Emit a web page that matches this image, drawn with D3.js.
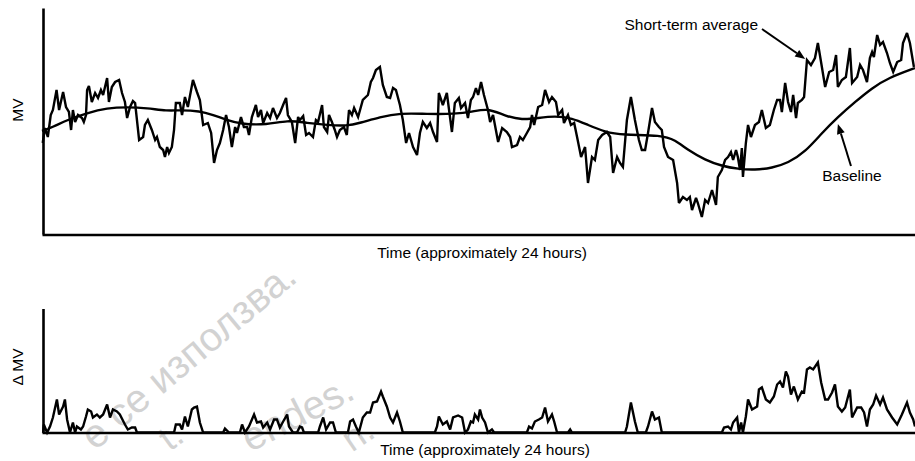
<!DOCTYPE html>
<html>
<head>
<meta charset="utf-8">
<script src="https://cdn.jsdelivr.net/npm/d3@7"></script>
<style>
  html, body { margin: 0; padding: 0; background: #fff; }
  svg { display: block; }
  text { font-family: "Liberation Sans", Arial, Helvetica, sans-serif; }
</style>
</head>
<body>
<svg id="chart" width="915" height="461"></svg>
<script>
// ---------------- DATA (time in hours, MV in arbitrary units) ----------------
const shortTermTime = [0.02,0.08,0.16,0.24,0.30,0.40,0.47,0.58,0.66,0.74,0.80,0.85,0.91,0.99,1.10,1.15,1.21,1.24,1.29,1.37,1.46,1.54,1.62,1.68,1.79,1.84,1.92,2.01,2.12,2.20,2.28,2.34,2.42,2.50,2.56,2.67,2.78,2.83,2.91,3.02,3.11,3.16,3.24,3.33,3.38,3.44,3.49,3.57,3.63,3.68,3.79,3.85,3.93,4.01,4.15,4.26,4.34,4.43,4.56,4.65,4.73,4.81,4.89,4.98,5.06,5.14,5.22,5.31,5.36,5.47,5.55,5.64,5.69,5.77,5.88,5.94,6.02,6.08,6.19,6.27,6.35,6.46,6.54,6.65,6.71,6.76,6.87,6.96,7.04,7.09,7.18,7.26,7.34,7.45,7.53,7.59,7.70,7.75,7.84,7.89,7.97,8.05,8.11,8.19,8.30,8.38,8.44,8.52,8.58,8.69,8.82,8.96,9.04,9.10,9.18,9.29,9.37,9.48,9.57,9.65,9.73,9.84,9.92,10.01,10.09,10.20,10.31,10.39,10.47,10.58,10.67,10.75,10.86,10.91,11.02,11.13,11.27,11.35,11.46,11.52,11.63,11.71,11.79,11.85,11.93,11.99,12.07,12.15,12.26,12.32,12.40,12.54,12.65,12.78,12.87,12.92,13.06,13.14,13.22,13.33,13.42,13.47,13.53,13.64,13.75,13.83,13.94,14.02,14.13,14.19,14.30,14.35,14.46,14.54,14.63,14.71,14.82,14.93,15.01,15.12,15.20,15.29,15.40,15.53,15.62,15.70,15.81,15.89,15.97,16.08,16.19,16.30,16.41,16.49,16.58,16.66,16.77,16.85,16.96,17.04,17.10,17.21,17.35,17.46,17.51,17.62,17.73,17.81,17.87,17.98,18.03,18.14,18.23,18.31,18.42,18.53,18.58,18.69,18.78,18.86,18.94,19.00,19.08,19.13,19.19,19.24,19.27,19.35,19.41,19.49,19.60,19.71,19.79,19.90,20.01,20.12,20.21,20.29,20.34,20.43,20.51,20.59,20.65,20.73,20.78,20.89,20.95,21.03,21.14,21.25,21.33,21.44,21.53,21.64,21.75,21.83,21.88,21.99,22.10,22.21,22.27,22.41,22.49,22.57,22.68,22.76,22.82,22.87,22.96,23.04,23.12,23.23,23.31,23.40,23.51,23.62,23.67,23.78,23.86,23.97];
const shortTermMV = [91,106,97,119,124,144,124,142,127,122,104,124,112,119,116,112,119,144,148,132,141,136,144,139,156,132,147,152,154,141,132,116,127,133,131,94,97,109,114,104,94,97,87,84,77,87,81,87,104,131,131,119,137,127,154,142,134,109,111,101,71,84,91,104,119,107,87,107,101,117,107,107,99,117,129,117,124,111,121,116,126,116,121,131,136,119,112,91,117,114,118,99,101,97,114,112,129,107,102,119,112,104,97,104,107,99,124,119,126,117,134,139,152,156,164,167,149,137,136,146,144,129,114,91,101,87,79,101,112,106,111,102,92,141,129,141,102,131,136,126,131,116,134,137,146,139,152,139,124,112,119,92,106,102,97,87,89,97,94,101,107,119,109,127,129,144,132,137,132,119,124,111,119,109,111,97,77,87,51,77,74,94,99,102,97,61,77,71,67,114,137,114,94,84,84,101,126,112,107,104,87,77,74,51,31,37,34,37,24,36,31,17,34,31,44,29,57,64,74,77,82,74,84,77,64,86,57,91,109,97,109,112,124,106,109,124,134,134,122,151,132,122,139,116,131,134,137,174,169,176,191,167,147,162,164,179,147,154,157,186,151,157,169,164,152,176,182,177,199,189,192,181,171,162,172,174,191,201,191,167];

const baselineTime = [0,0.30,0.69,1.24,1.79,2.34,2.89,3.44,3.79,4.34,4.70,5.09,5.44,6.19,6.74,7.29,7.84,8.38,8.74,9.29,9.84,10.58,11.35,11.82,12.26,12.73,13.20,13.64,14.10,14.57,15.01,15.48,15.95,17.04,17.40,17.76,18.23,18.69,19.13,19.60,20.07,20.51,20.98,21.44,21.88,22.35,22.82,23.26,24.00];
const baselineMV = [103,107,114,121,126,127,126,123,124,123,119,114,110,109,114,111,109,108,111,117,121,120,120,122,126,118,114,116,118,116,109,102,99,99,94,84,74,68,65,64,66,71,82,101,117,132,146,156,166];

const deltaTime = [
  0.03,0.05,0.14,0.22,0.30,0.41,0.47,0.58,0.63,0.69,0.77,0.85,0.91,0.96,1.07,1.13,1.21,1.26,1.35,1.40,1.51,1.59,1.68,1.79,1.87,1.95,2.06,2.14,2.28,2.36,2.47,2.56,2.61,
  3.63,3.68,3.79,3.85,3.93,4.01,4.12,4.18,4.26,4.34,4.43,
  4.98,5.03,5.14,
  5.44,5.50,5.58,5.69,5.83,5.91,6.02,6.08,6.19,6.27,6.38,6.46,6.54,6.63,6.74,6.79,6.90,
  7.01,7.09,7.15,7.20,
  7.59,7.64,7.73,7.81,7.92,8.00,8.08,
  8.41,8.47,8.55,8.63,8.71,8.82,8.93,9.02,9.10,9.21,9.32,9.37,9.48,9.57,9.65,9.76,9.84,9.92,
  10.80,10.86,10.91,11.02,11.13,11.22,11.30,11.44,11.55,11.63,11.71,11.79,11.85,11.90,11.99,12.04,12.10,12.18,12.26,12.37,12.43,
  13.33,13.39,13.47,13.55,13.66,13.75,13.83,13.91,14.02,14.08,14.16,
  14.46,14.52,14.57,
  16.03,16.08,16.19,16.30,16.38,
  16.60,16.66,16.77,16.85,16.96,17.04,
  18.69,18.75,18.86,18.94,19.00,19.11,19.16,19.22,19.27,
  19.35,19.41,19.52,19.66,19.71,19.79,19.90,20.01,20.12,20.21,
  20.29,20.37,20.45,20.51,20.59,20.67,20.78,20.89,20.95,21.03,
  21.11,21.20,21.33,21.42,21.53,21.61,21.72,21.80,21.88,21.99,
  22.08,22.21,22.27,22.41,22.52,22.60,22.68,22.76,22.85,22.93,
  23.04,23.12,23.23,23.37,23.51,23.64,23.78,23.86,23.95,24.00];
const deltaMV = [
  0,8,0,6,15,33,18,26,33,13,0,10,0,6,3,6,16,23,21,15,18,15,18,28,15,23,21,18,8,3,5,5,0,
  0,8,8,3,16,6,23,25,26,10,0,
  0,4,0,
  0,8,0,6,18,10,11,5,10,3,13,13,5,11,18,6,0,
  0,6,5,0,
  0,6,15,3,10,10,0,
  0,11,13,6,0,15,20,20,30,31,41,36,26,15,10,20,11,0,
  0,6,16,8,11,3,15,17,15,0,3,11,10,18,13,23,15,10,0,3,0,
  0,6,4,11,13,15,25,11,18,11,0,
  0,3,0,
  0,6,30,11,0,
  0,6,21,13,15,0,
  0,5,6,3,10,15,0,10,0,
  16,33,23,26,43,45,33,30,36,48,
  51,45,61,56,38,46,33,41,40,63,
  65,63,70,50,33,33,40,48,26,21,
  25,43,15,25,25,20,6,23,28,37,
  28,35,23,15,8,18,30,20,13,6];

const timeDomain = [0, 24];
const mvDomain = [0, 226];
const deltaDomain = [0, 124];
const xLabel = "Time (approximately 24 hours)";
const mvLabel = "MV";
const deltaLabel = "\u0394 MV";
const shortLabel = "Short-term average";
const baseLabel = "Baseline";
const watermarkTexts = ["е се използва.", "t.", "endes.", "n."];
// annotation anchor points (data units)
const shortArrowTip = [20.98, 175];
const baseArrowTip = [21.88, 112];

// ---------------- DRAW ----------------
const svg = d3.select("#chart");
const left = 42, right = 915;

const x = d3.scaleLinear().domain(timeDomain).range([left, right]);
const yTop = d3.scaleLinear().domain(mvDomain).range([234, 8]);
const yBot = d3.scaleLinear().domain(deltaDomain).range([432.5, 308.5]);

// watermark (faint)
const wm = svg.append("g").attr("fill", "#d2d2d2");
const wmPos = [
  {x: 299, y: 280, a: -40, s: 40},
  {x: 186, y: 440, a: -36, s: 36},
  {x: 357, y: 398, a: -27, s: 40},
  {x: 377, y: 436, a: -34, s: 36}
];
watermarkTexts.forEach((t, i) => {
  const p = wmPos[i];
  wm.append("text").attr("text-anchor", "end").attr("font-size", p.s)
    .attr("transform", `translate(${p.x},${p.y}) rotate(${p.a})`)
    .text(t);
});

const stroke = "#000";
const lineW = 2.4;

// ---- top panel ----
const stData = d3.zip(shortTermTime, shortTermMV);
const blData = d3.zip(baselineTime, baselineMV);

svg.append("path").datum(blData)
  .attr("d", d3.line().x(d => x(d[0])).y(d => yTop(d[1])).curve(d3.curveBasis))
  .attr("fill", "none").attr("stroke", stroke).attr("stroke-width", lineW);

svg.append("path").datum(stData)
  .attr("d", d3.line().x(d => x(d[0])).y(d => yTop(d[1])))
  .attr("fill", "none").attr("stroke", stroke).attr("stroke-width", lineW)
  .attr("stroke-linejoin", "miter").attr("stroke-miterlimit", 3);

const axTop = svg.append("g").attr("transform", `translate(0,${yTop(0) + 0.5})`)
  .call(d3.axisBottom(x).tickValues([]).tickSizeOuter(0));
const ayTop = svg.append("g").attr("transform", `translate(${left + 1},0)`)
  .call(d3.axisLeft(yTop).tickValues([]).tickSizeOuter(0));

// ---- bottom panel ----
const dData = d3.zip(deltaTime, deltaMV);
svg.append("path").datum(dData)
  .attr("d", d3.line().x(d => x(d[0])).y(d => yBot(d[1])))
  .attr("fill", "none").attr("stroke", stroke).attr("stroke-width", lineW)
  .attr("stroke-linejoin", "miter").attr("stroke-miterlimit", 3);

const axBot = svg.append("g").attr("transform", `translate(0,${yBot(0)})`)
  .call(d3.axisBottom(x).tickValues([]).tickSizeOuter(0));
const ayBot = svg.append("g").attr("transform", `translate(${left + 1},0)`)
  .call(d3.axisLeft(yBot).tickValues([]).tickSizeOuter(0));

[axTop, ayTop, axBot, ayBot].forEach(g => {
  g.select(".domain").attr("stroke", "#000").attr("stroke-width", 2.6);
});

// ---- labels ----
const fs = 15.5;
svg.append("text").attr("x", 482).attr("y", 258).attr("text-anchor", "middle")
  .attr("font-size", fs).attr("fill", "#000").text(xLabel);
svg.append("text").attr("x", 485).attr("y", 455).attr("text-anchor", "middle")
  .attr("font-size", fs).attr("fill", "#000").text(xLabel);
svg.append("text").attr("transform", "translate(23,110) rotate(-90)")
  .attr("text-anchor", "middle").attr("font-size", fs).attr("fill", "#000").text(mvLabel);
svg.append("text").attr("transform", "translate(23,367) rotate(-90)")
  .attr("text-anchor", "middle").attr("font-size", fs).attr("fill", "#000").text(deltaLabel);

// ---- annotations ----
svg.append("text").attr("x", 758).attr("y", 30).attr("text-anchor", "end")
  .attr("font-size", fs).attr("fill", "#000").text(shortLabel);
svg.append("text").attr("x", 852).attr("y", 181).attr("text-anchor", "middle")
  .attr("font-size", fs).attr("fill", "#000").text(baseLabel);

function arrow(x1, y1, x2, y2) {
  const ang = Math.atan2(y2 - y1, x2 - x1);
  const L = 10, Wd = 4;
  const bx = x2 - L * Math.cos(ang), by = y2 - L * Math.sin(ang);
  svg.append("line").attr("x1", x1).attr("y1", y1).attr("x2", bx).attr("y2", by)
    .attr("stroke", "#000").attr("stroke-width", 2);
  const px = -Math.sin(ang) * Wd, py = Math.cos(ang) * Wd;
  svg.append("path")
    .attr("d", `M${x2},${y2}L${bx + px},${by + py}L${bx - px},${by - py}Z`)
    .attr("fill", "#000");
}
arrow(762, 29, x(shortArrowTip[0]), yTop(shortArrowTip[1]));
arrow(851, 166, x(baseArrowTip[0]), yTop(baseArrowTip[1]) + 2);
</script>
</body>
</html>
